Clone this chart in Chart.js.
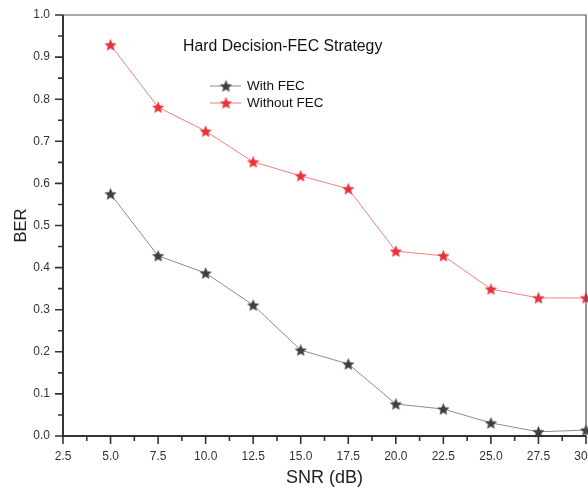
<!DOCTYPE html>
<html>
<head>
<meta charset="utf-8">
<script src="https://cdn.jsdelivr.net/npm/chart.js@4"></script>
<style>
  html, body { margin: 0; padding: 0; background: #fff; }
  #wrap { width: 588px; height: 490px; }
</style>
</head>
<body>
<div id="wrap"><canvas id="berChart" width="588" height="490"></canvas></div>
<script>
// data
var snr = [5.0, 7.5, 10.0, 12.5, 15.0, 17.5, 20.0, 22.5, 25.0, 27.5, 30.0];
var withFec = [0.575, 0.428, 0.387, 0.311, 0.204, 0.171, 0.076, 0.064, 0.031, 0.010, 0.014];
var withoutFec = [0.929, 0.781, 0.724, 0.651, 0.618, 0.587, 0.439, 0.428, 0.349, 0.328, 0.328];
var chartTitle = 'Hard Decision-FEC Strategy';

var fontFamily = '"Liberation Sans", Arial, sans-serif';

// filled five point star used as point marker
function makeStar(color, r) {
    var c = document.createElement('canvas');
    var size = Math.ceil(r * 2 + 2);
    c.width = size;
    c.height = size;
    var g = c.getContext('2d');
    var cx = size / 2, cy = size / 2 + 0.5;
    var inner = r * 0.45;
    g.beginPath();
    for (var i = 0; i < 10; i++) {
        var rad = (i % 2 === 0) ? r : inner;
        var a = -Math.PI / 2 + i * Math.PI / 5;
        var px = cx + rad * Math.cos(a), py = cy + rad * Math.sin(a);
        if (i === 0) g.moveTo(px, py); else g.lineTo(px, py);
    }
    g.closePath();
    g.fillStyle = color;
    g.fill();
    return c;
}

var blackStar = makeStar('#3f3f3f', 6.5);
var redStar = makeStar('#e8333b', 6.5);

// frame, ticks, title and legend inside the plot
var decorPlugin = {
    id: 'decor',
    afterDraw: function(chart) {
        var ctx = chart.ctx;
        var a = chart.chartArea;
        var xs = chart.scales.x, ys = chart.scales.y;
        ctx.save();

        // top and right frame
        ctx.strokeStyle = '#555';
        ctx.lineWidth = 1.2;
        ctx.beginPath();
        ctx.moveTo(a.left, a.top);
        ctx.lineTo(a.right, a.top);
        ctx.lineTo(a.right, a.bottom);
        ctx.stroke();

        // left and bottom axes
        ctx.strokeStyle = '#333';
        ctx.lineWidth = 2;
        ctx.beginPath();
        ctx.moveTo(a.left, a.top);
        ctx.lineTo(a.left, a.bottom);
        ctx.lineTo(a.right, a.bottom);
        ctx.stroke();

        // x ticks
        ctx.lineWidth = 1.6;
        ctx.beginPath();
        xs.ticks.forEach(function(t, i) {
            var px = xs.getPixelForValue(t.value);
            ctx.moveTo(px, a.bottom);
            ctx.lineTo(px, a.bottom + 8);
            if (i < xs.ticks.length - 1) {
                var mx = xs.getPixelForValue((t.value + xs.ticks[i + 1].value) / 2);
                ctx.moveTo(mx, a.bottom);
                ctx.lineTo(mx, a.bottom + 5);
            }
        });
        // y ticks
        ys.ticks.forEach(function(t, i) {
            var py = ys.getPixelForValue(t.value);
            ctx.moveTo(a.left, py);
            ctx.lineTo(a.left - 8, py);
            if (i < ys.ticks.length - 1) {
                var my = ys.getPixelForValue((t.value + ys.ticks[i + 1].value) / 2);
                ctx.moveTo(a.left, my);
                ctx.lineTo(a.left - 5, my);
            }
        });
        ctx.stroke();

        // title
        ctx.fillStyle = '#111';
        ctx.font = '15.8px ' + fontFamily;
        ctx.textAlign = 'left';
        ctx.textBaseline = 'middle';
        ctx.fillText(chartTitle, 183, 47);

        // legend
        ctx.font = '13.5px ' + fontFamily;
        chart.data.datasets.forEach(function(ds, i) {
            var ly = 86 + i * 17;
            ctx.strokeStyle = ds.borderColor;
            ctx.lineWidth = 1;
            ctx.beginPath();
            ctx.moveTo(210, ly);
            ctx.lineTo(241, ly);
            ctx.stroke();
            var img = ds.pointStyle;
            ctx.drawImage(img, 226 - img.width / 2, ly - img.height / 2);
            ctx.fillStyle = '#111';
            ctx.fillText(ds.label, 247, ly);
        });
        ctx.restore();
    }
};

var ctx = document.getElementById('berChart').getContext('2d');
var berChart = new Chart(ctx, {
    type: 'line',
    data: {
        datasets: [{
            label: 'With FEC',
            data: snr.map(function(x, i) { return { x: x, y: withFec[i] }; }),
            borderColor: '#8c8c8c',
            borderWidth: 1,
            pointStyle: blackStar,
            clip: false,
            tension: 0
        }, {
            label: 'Without FEC',
            data: snr.map(function(x, i) { return { x: x, y: withoutFec[i] }; }),
            borderColor: '#f27f84',
            borderWidth: 1,
            pointStyle: redStar,
            clip: false,
            tension: 0
        }]
    },
    options: {
        responsive: false,
        animation: false,
        layout: { autoPadding: false, padding: { top: 15, right: 2, left: 0, bottom: 0 } },
        plugins: {
            legend: { display: false },
            tooltip: { enabled: false }
        },
        scales: {
            x: {
                type: 'linear',
                min: 2.5,
                max: 30,
                grid: { display: false, drawTicks: false },
                border: { display: false },
                ticks: {
                    stepSize: 2.5,
                    autoSkip: false,
                    maxRotation: 0,
                    padding: 13,
                    color: '#333',
                    font: { family: fontFamily, size: 12 },
                    callback: function(v) { return Number(v).toFixed(1); }
                },
                title: {
                    display: true,
                    text: 'SNR (dB)',
                    color: '#222',
                    padding: { top: 0, bottom: 1 },
                    font: { family: fontFamily, size: 18 }
                },
                afterFit: function(scale) {
                    scale.height = 54;
                    scale.paddingLeft = 0;
                    scale.paddingRight = 0;
                }
            },
            y: {
                min: 0,
                max: 1,
                grid: { display: false, drawTicks: false },
                border: { display: false },
                ticks: {
                    stepSize: 0.1,
                    padding: 13,
                    color: '#333',
                    font: { family: fontFamily, size: 12 },
                    callback: function(v) { return Number(v).toFixed(1); }
                },
                title: {
                    display: true,
                    text: 'BER',
                    color: '#222',
                    padding: { top: 12, bottom: 0 },
                    font: { family: fontFamily, size: 16.5 }
                },
                afterFit: function(scale) {
                    scale.width = 63;
                    scale.paddingTop = 0;
                    scale.paddingBottom = 0;
                }
            }
        }
    },
    plugins: [decorPlugin]
});
</script>
</body>
</html>
